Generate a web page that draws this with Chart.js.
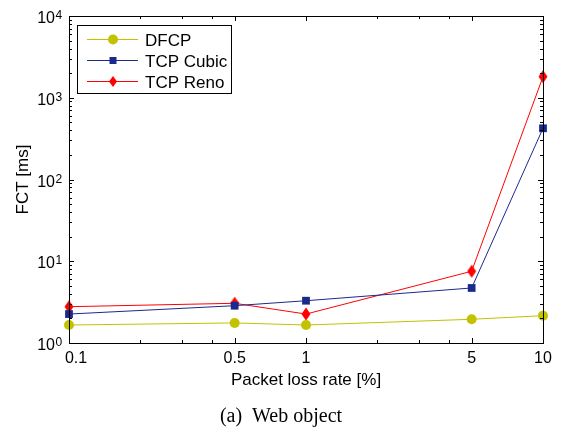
<!DOCTYPE html>
<html>
<head>
<meta charset="utf-8">
<script src="https://cdn.jsdelivr.net/npm/chart.js@4.4.0/dist/chart.umd.min.js"></script>
<style>
  html, body { margin: 0; padding: 0; background: #fff; }
  #wrap { width: 562px; height: 434px; position: relative; }
</style>
</head>
<body>
<div id="wrap"><canvas id="fct-chart"></canvas></div>
<script>
// packet loss rate [%]
const lossRates = [0.1, 0.5, 1, 5, 10];
// flow completion time [ms]
const dfcp = [1.66, 1.76, 1.66, 1.95, 2.16];
const tcpCubic = [2.26, 2.86, 3.29, 4.71, 423];
const tcpReno = [2.78, 3.06, 2.26, 7.54, 1810];

const xMajor = [0.1, 0.5, 1, 5, 10];
const xMinor = [0.2, 0.3, 0.4, 2, 3, 4];
const yDecades = [0, 1, 2, 3, 4];

const FONT = "Liberation Sans, Arial, sans-serif";

function pts(values) {
  return lossRates.map((x, i) => ({ x: x, y: values[i] }));
}

// inward ticks on all four sides, box, tick labels, titles and legend
const axesPlugin = {
  id: "matlabAxes",
  afterDraw(chart) {
    const ctx = chart.ctx;
    const { left, right, top, bottom } = chart.chartArea;
    const xs = chart.scales.x;
    const ys = chart.scales.y;

    ctx.save();
    ctx.strokeStyle = "#000";
    ctx.lineWidth = 1;
    ctx.strokeRect(left + 0.5, top + 0.5, right - left, bottom - top);

    ctx.beginPath();
    const xTick = (v, len) => {
      const px = Math.round(xs.getPixelForValue(v)) + 0.5;
      ctx.moveTo(px, bottom); ctx.lineTo(px, bottom - len);
      ctx.moveTo(px, top); ctx.lineTo(px, top + len);
    };
    xMajor.forEach(v => xTick(v, 5));
    xMinor.forEach(v => xTick(v, 3));

    const yTick = (v, len) => {
      const py = Math.round(ys.getPixelForValue(v)) + 0.5;
      ctx.moveTo(left, py); ctx.lineTo(left + len, py);
      ctx.moveTo(right, py); ctx.lineTo(right - len, py);
    };
    yDecades.forEach(d => {
      yTick(Math.pow(10, d), 5);
      if (d < 4) {
        for (let m = 2; m <= 9; m++) yTick(m * Math.pow(10, d), 3);
      }
    });
    ctx.stroke();

    // x tick labels (first one nudged right, clear of the y labels)
    ctx.fillStyle = "#000";
    ctx.font = "16px " + FONT;
    ctx.textAlign = "center";
    ctx.textBaseline = "alphabetic";
    xMajor.forEach((v, i) => {
      const px = xs.getPixelForValue(v) + (i === 0 ? 7 : 0);
      ctx.fillText(String(v), px, 363);
    });

    // y tick labels 10^n
    yDecades.forEach(d => {
      const py = ys.getPixelForValue(Math.pow(10, d));
      ctx.font = "16px " + FONT;
      ctx.textAlign = "right";
      ctx.fillText("10", 55, py + 7);
      ctx.font = "12px " + FONT;
      ctx.textAlign = "left";
      ctx.fillText(String(d), 55.5, py + 3);
    });

    // axis titles
    ctx.font = "17px " + FONT;
    ctx.textAlign = "center";
    ctx.fillText("Packet loss rate [%]", (left + right) / 2, 385);
    ctx.save();
    ctx.translate(28, (top + bottom) / 2);
    ctx.rotate(-Math.PI / 2);
    ctx.fillText("FCT [ms]", 0, 0);
    ctx.restore();

    // caption
    ctx.font = "20px Liberation Serif, Times New Roman, serif";
    ctx.fillText("(a)  Web object", 281, 422);

    // legend
    const lx = 77, ly = 25, lw = 154, lh = 68;
    ctx.fillStyle = "#fff";
    ctx.fillRect(lx, ly, lw, lh);
    ctx.strokeStyle = "#000";
    ctx.strokeRect(lx + 0.5, ly + 0.5, lw, lh);
    chart.data.datasets.forEach((ds, i) => {
      const cy = ly + 14.5 + i * 21;
      ctx.strokeStyle = ds.borderColor;
      ctx.lineWidth = 1;
      ctx.beginPath();
      ctx.moveTo(lx + 10, cy); ctx.lineTo(lx + 61, cy);
      ctx.stroke();
      ctx.fillStyle = ds.backgroundColor;
      const mx = lx + 36;
      ctx.beginPath();
      if (ds.pointStyle === "circle") {
        ctx.arc(mx, cy, 5, 0, Math.PI * 2);
      } else if (ds.pointStyle === "rect") {
        ctx.rect(mx - 3.5, cy - 3.5, 7, 7);
      } else {
        ctx.moveTo(mx, cy - 5.5); ctx.lineTo(mx + 4, cy);
        ctx.lineTo(mx, cy + 5.5); ctx.lineTo(mx - 4, cy);
        ctx.closePath();
      }
      ctx.fill();
      ctx.fillStyle = "#000";
      ctx.font = "17px " + FONT;
      ctx.textAlign = "left";
      ctx.fillText(ds.label, lx + 68, cy + 6);
    });
    ctx.restore();
  },
};

// squashed diamond marker for TCP Reno
const diamond = document.createElement("canvas");
diamond.width = 10; diamond.height = 14;
(() => {
  const c = diamond.getContext("2d");
  c.fillStyle = "#ff0000";
  c.beginPath();
  c.moveTo(5, 0.5); c.lineTo(9.5, 7); c.lineTo(5, 13.5); c.lineTo(0.5, 7);
  c.closePath();
  c.fill();
})();

const series = [
  { label: "DFCP", values: dfcp, color: "#c2c200", style: "circle", radius: 5 },
  { label: "TCP Cubic", values: tcpCubic, color: "#1a2a8c", style: "rect", radius: 5.5 },
  { label: "TCP Reno", values: tcpReno, color: "#ff0000", style: "diamond", radius: 7 },
];

new Chart(document.getElementById("fct-chart"), {
  type: "line",
  data: {
    datasets: series.map(s => ({
      label: s.label,
      data: pts(s.values),
      borderColor: s.color,
      backgroundColor: s.color,
      borderWidth: 1,
      pointStyle: s.style === "diamond" ? diamond : s.style,
      pointRadius: s.radius,
      pointBorderWidth: 0,
      tension: 0,
      clip: false,
    })),
  },
  options: {
    responsive: true,
    maintainAspectRatio: false,
    animation: false,
    events: [],
    layout: { padding: { left: 69, top: 16, right: 19, bottom: 91 } },
    scales: {
      x: {
        type: "logarithmic",
        min: 0.1,
        max: 10,
        grid: { display: false },
        border: { display: false },
        ticks: { display: false },
        afterFit: scale => { scale.height = 0; },
      },
      y: {
        type: "logarithmic",
        min: 1,
        max: 10000,
        grid: { display: false },
        border: { display: false },
        ticks: { display: false },
        afterFit: scale => { scale.width = 0; },
      },
    },
    plugins: {
      legend: { display: false },
      tooltip: { enabled: false },
    },
  },
  plugins: [axesPlugin],
});
</script>
</body>
</html>
